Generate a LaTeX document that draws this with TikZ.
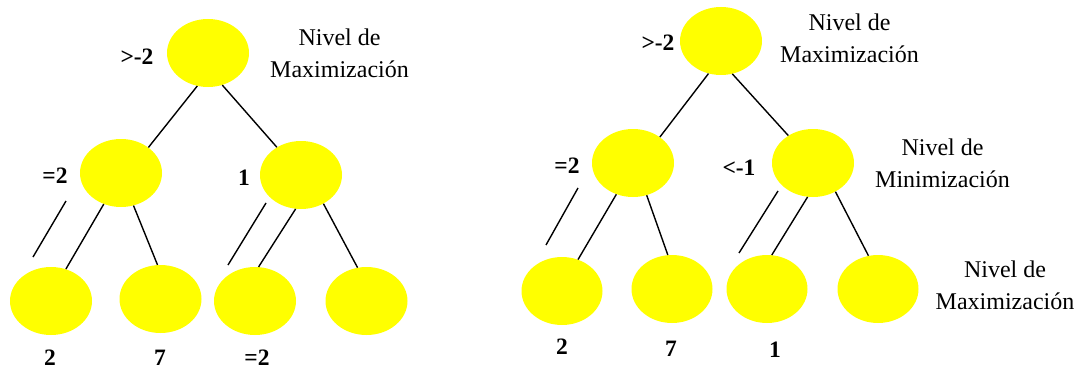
\documentclass[tikz,border=0pt]{standalone}
\usepackage{fontspec}
\setmainfont{Liberation Serif}
\usetikzlibrary{shapes.geometric}
\definecolor{nodeyellow}{RGB}{255,255,0}
\begin{document}
\begin{tikzpicture}[x=1pt,y=-1pt,
  blob/.style={ellipse, fill=nodeyellow, draw=none, inner sep=0pt, minimum width=82pt, minimum height=68pt},
  val/.style={font=\fontsize{23.5}{27}\selectfont\bfseries, inner sep=0pt},
  lvl/.style={font=\fontsize{24}{32}\selectfont, align=center, inner sep=0pt},
  conn/.style={line width=1.4pt, black}]
\useasboundingbox (0,0) rectangle (1079,369);
% ---------- left tree ----------
\node[blob] (LR) at (208,53) {};
\node[blob] (LML) at (121,173) {};
\node[blob] (LMR) at (301,175) {};
\node[blob] (LL1) at (51,301) {};
\node[blob] (LL2) at (160.5,299) {};
\node[blob] (LL3) at (255,301) {};
\node[blob] (LL4) at (366.5,301) {};
\draw[conn] (LR.252) -- (LML.43);
\draw[conn] (LR.294) -- (LMR.131);
\draw[conn] (LML.241) -- (LL1.65);
\draw[conn] (LML.291) -- (LL2.95);
\draw[conn] (LMR.261) -- (LL3.84);
\draw[conn] (LMR.308) -- (LL4.105);
\coordinate (ls1a) at (66,201);
\coordinate (ls1b) at (33,257);
\coordinate (ls2a) at (266,203);
\coordinate (ls2b) at (228,265);
\draw[conn] (ls1a) -- (ls1b);
\draw[conn] (ls2a) -- (ls2b);
\node[val] (lv1) at (137,57) {>-2};
\node[val] (lv2) at (55,176) {=2};
\node[val] (lv3) at (244,178) {1};
\node[val] (lv4) at (50,358) {2};
\node[val] (lv5) at (160,358) {7};
\node[val] (lv6) at (257,358) {=2};
\node[lvl] (lt1) at (339.5,52.8) {Nivel de\\Maximización};
% ---------- right tree ----------
\node[blob] (RR) at (721,41) {};
\node[blob] (RML) at (633,163) {};
\node[blob] (RMR) at (813,163) {};
\node[blob, minimum width=81pt] (RL1) at (562,291) {};
\node[blob, minimum width=81pt] (RL2) at (672,289) {};
\node[blob, minimum width=81pt] (RL3) at (767,289) {};
\node[blob, minimum width=81pt] (RL4) at (878,289) {};
\draw[conn] (RR.249) -- (RML.44);
\draw[conn] (RR.289) -- (RMR.132);
\draw[conn] (RML.242) -- (RL1.63);
\draw[conn] (RML.293) -- (RL2.97);
\draw[conn] (RMR.261) -- (RL3.82);
\draw[conn] (RMR.308) -- (RL4.106);
\coordinate (rs1a) at (578,188);
\coordinate (rs1b) at (546,245);
\coordinate (rs2a) at (778,191);
\coordinate (rs2b) at (739,253);
\draw[conn] (rs1a) -- (rs1b);
\draw[conn] (rs2a) -- (rs2b);
\node[val] (rv1) at (658,43) {>-2};
\node[val] (rv2) at (567,166) {=2};
\node[val] (rv3) at (739,168) {<-1};
\node[val] (rv4) at (562,347) {2};
\node[val] (rv5) at (671,349) {7};
\node[val] (rv6) at (775,350) {1};
\node[lvl] (rt1) at (849.5,37.8) {Nivel de\\Maximización};
\node[lvl] (rt2) at (942.5,162.8) {Nivel de\\Minimización};
\node[lvl] (rt3) at (1005,284.8) {Nivel de\\Maximización};
\end{tikzpicture}
\end{document}
